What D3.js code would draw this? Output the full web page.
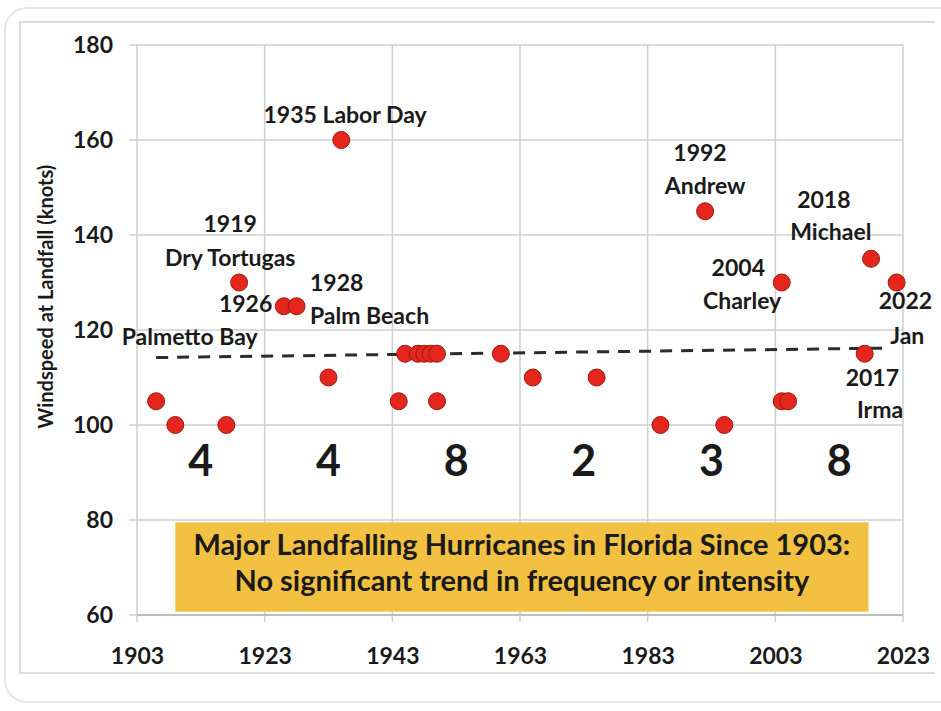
<!DOCTYPE html>
<html><head><meta charset="utf-8">
<script src="https://cdn.jsdelivr.net/npm/d3@7/dist/d3.min.js"></script>
<style>
html,body{margin:0;padding:0;background:#fff;}
svg text{font-family:Lato,"Open Sans",sans-serif;font-weight:bold;fill:#1a1a1a;}
</style></head>
<body>
<svg id="chart" width="941" height="711"></svg>
<script>
// ---- data ----
const years  = [1906,1909,1917,1919,1926,1928,1933,1935,1944,1945,1947,1948,1949,1950,1950,1960,1965,1975,1985,1992,1995,2004,2004,2005,2017,2018,2022];
const speeds = [105, 100, 100, 130, 125, 125, 110, 160, 105, 115, 115, 115, 115, 115, 105, 115, 110, 110, 100, 145, 100, 130, 105, 105, 115, 135, 130];
const xTicks = [1903,1923,1943,1963,1983,2003,2023];
const yTicks = [60,80,100,120,140,160,180];
const binCounts = [4,4,8,2,3,8];
const trendYears = [1906,2021];
const trendValues = [114.2,116.2];
const annoText = ["1935 Labor Day","1919","Dry Tortugas","1926","1928","Palm Beach","Palmetto Bay","1992","Andrew","2018","Michael","2004","Charley","2022","Jan","2017","Irma"];
const annoYear = [1935.6,1917.6,1917.6,1924.2,1930.1,1930.1,1900.6,1991.2,1992.0,2010.6,2011.7,1997.2,1997.8,2019.2,2021.0,2018.2,2019.4];
const annoVal  = [164.8,141.9,134.7,125.1,129.5,122.5,118.1,156.8,149.9,147.0,140.2,132.6,125.7,125.7,118.3,109.5,102.7];
const annoAnchor = ["middle","middle","middle","end","start","start","start","middle","middle","middle","middle","middle","middle","start","start","middle","middle"];
const yLabel = "Windspeed at Landfall (knots)";
const boxLines = ["Major Landfalling Hurricanes in Florida Since 1903:","No significant trend in frequency or intensity"];

// ---- layout ----
const svg = d3.select("#chart");
const x = d3.scaleLinear().domain([1903,2023]).range([137,903]);
const y = d3.scaleLinear().domain([60,180]).range([615,45]);

// card borders
svg.append("rect").attr("x",5).attr("y",8).attr("width",960).attr("height",694).attr("rx",22)
  .attr("fill","#fff").attr("stroke","#e3e6e8").attr("stroke-width",2);
svg.append("path").attr("d","M935,22 H20 V673 H935").attr("fill","none").attr("stroke","#dcdcdc").attr("stroke-width",2);

// gridlines
svg.append("g").selectAll("line").data(xTicks).join("line")
  .attr("x1",d=>x(d)).attr("x2",d=>x(d)).attr("y1",y(180)).attr("y2",y(60)+7)
  .attr("stroke","#cfcfcf").attr("stroke-width",1.5);
svg.append("g").selectAll("line").data(yTicks).join("line")
  .attr("x1",x(1903)-8).attr("x2",x(2023)).attr("y1",d=>y(d)).attr("y2",d=>y(d))
  .attr("stroke","#cfcfcf").attr("stroke-width",1.5);
svg.append("line").attr("x1",x(1903)).attr("x2",x(2023)).attr("y1",y(60)).attr("y2",y(60))
  .attr("stroke","#bdbdbd").attr("stroke-width",2);

// axes (labels)
const xa = svg.append("g").attr("transform",`translate(0,${y(60)+8})`)
  .call(d3.axisBottom(x).tickValues(xTicks).tickFormat(d3.format("d")).tickSize(0).tickPadding(25));
xa.select(".domain").remove();
xa.selectAll("text").attr("font-size",23).attr("fill","#1a1a1a").attr("font-family","Lato").attr("font-weight","bold");
const ya = svg.append("g").attr("transform",`translate(${x(1903)-8},0)`)
  .call(d3.axisLeft(y).tickValues(yTicks).tickSize(0).tickPadding(16));
ya.select(".domain").remove();
ya.selectAll("text").attr("font-size",23).attr("fill","#1a1a1a").attr("font-family","Lato").attr("font-weight","bold");

svg.append("text").attr("transform",`translate(48,${y(127)}) rotate(-90)`)
  .attr("text-anchor","middle").attr("dominant-baseline","middle").attr("font-size",20).text(yLabel);

// bin counts
svg.append("g").selectAll("text").data(binCounts).join("text")
  .attr("x",(d,i)=>x(xTicks[i]+10)).attr("y",y(91.5))
  .attr("text-anchor","middle").attr("dominant-baseline","middle").attr("font-size",43).text(d=>d);

// annotation box
svg.append("rect").attr("x",x(1909)).attr("y",y(79.5)).attr("width",x(2017.6)-x(1909)).attr("height",y(60.7)-y(79.5))
  .attr("fill","#f3c142");
svg.append("g").selectAll("text").data(boxLines).join("text")
  .attr("x",(x(1909)+x(2017.6))/2).attr("y",(d,i)=>i===0?y(74.2):y(66.6))
  .attr("text-anchor","middle").attr("dominant-baseline","middle").attr("font-size",29).text(d=>d);

// trend line
svg.append("line").attr("x1",x(trendYears[0])).attr("y1",y(trendValues[0]))
  .attr("x2",x(trendYears[1])).attr("y2",y(trendValues[1]))
  .attr("stroke","#2b2b2b").attr("stroke-width",3).attr("stroke-dasharray","12,9");

// points
svg.append("g").selectAll("circle").data(years).join("circle")
  .attr("cx",d=>x(d)).attr("cy",(d,i)=>y(speeds[i])).attr("r",8.5)
  .attr("fill","#e5261c").attr("stroke","#9a1a12").attr("stroke-width",1);

// annotations
svg.append("g").selectAll("text").data(annoText).join("text")
  .attr("x",(d,i)=>x(annoYear[i])).attr("y",(d,i)=>y(annoVal[i]))
  .attr("text-anchor",(d,i)=>annoAnchor[i]).attr("dominant-baseline","middle")
  .attr("font-size",23).text(d=>d);
</script>
</body></html>
